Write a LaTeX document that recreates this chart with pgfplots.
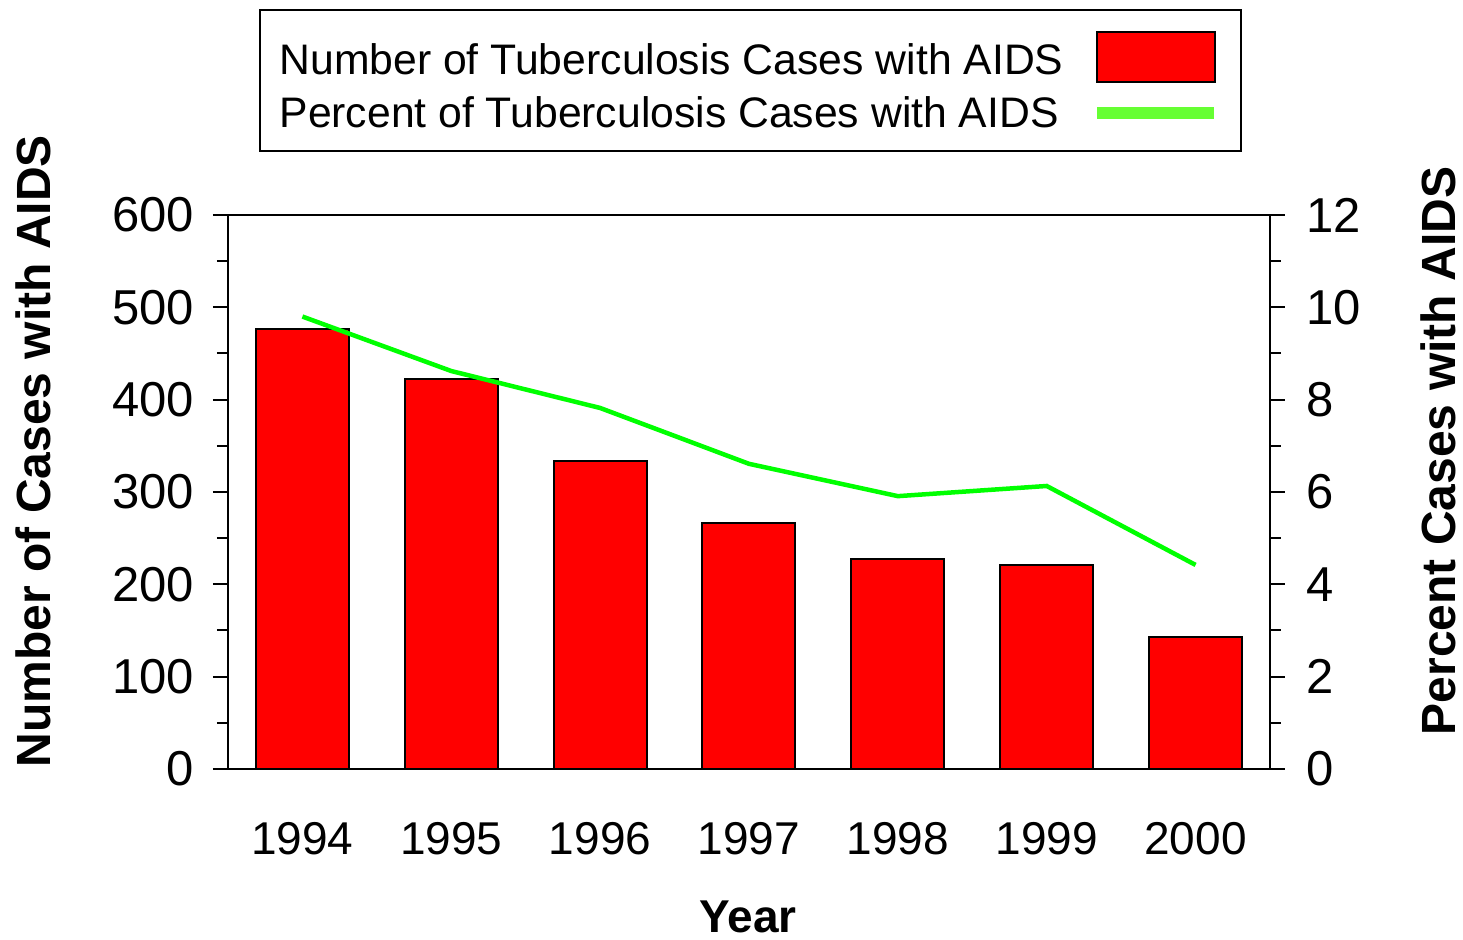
\documentclass[border=0pt]{standalone}
\usepackage{pgfplots}
\pgfplotsset{compat=1.18}
\usepackage{fontspec}
\setmainfont{Liberation Sans}
\definecolor{barred}{RGB}{255,0,0}
\definecolor{linegreen}{RGB}{0,255,0}
\definecolor{leggreen}{RGB}{102,255,51}
\begin{document}
\begin{tikzpicture}
\path[use as bounding box] (-114pt,-85.5pt) rectangle (617.5pt,384.5pt);
\pgfplotsset{
 common/.style={
  at={(0,0)}, anchor=south west,
  scale only axis, width=521pt, height=277pt,
  xmin=-0.5, xmax=6.5,
  tick align=outside,
  major tick length=7.5pt, minor tick length=5.5pt,
  every tick/.style={black, line width=1pt},
  axis line style={line width=1pt},
  /pgf/number format/assume math mode=true,
  yticklabel style={font=\fontsize{24.5}{29}\selectfont},
  xticklabel style={font=\fontsize{23}{28}\selectfont},
  minor y tick num=1,
 }
}
\begin{axis}[common,
  ymin=0, ymax=600, ytick={0,100,...,600},
  ytick pos=left,
  yticklabel style={xshift=-6pt},
  xtick={0,1,2,3,4,5,6},
  xticklabels={1994,1995,1996,1997,1998,1999,2000},
  xtick pos=bottom,
  x tick style={draw=none},
  xticklabel style={yshift=-15.5pt},
  ybar, bar width=46.5pt,
  xlabel={\bfseries Year},
  xlabel style={font=\fontsize{23}{28}\selectfont, at={(axis description cs:0.499,-0.267)}, anchor=center},
  ylabel={\bfseries Number of Cases with AIDS},
  ylabel style={font=\fontsize{24}{29}\selectfont, at={(axis description cs:-0.187,0.574)}, anchor=center, rotate=0},
  legend plot pos=right,
  legend cell align=left,
  legend style={at={(axis description cs:0.0297,1.3718)}, anchor=north west,
    draw=black, line width=1pt,
    font=\fontsize{21.35}{25}\selectfont,
    inner xsep=9.8pt, inner ysep=10.5pt,
    column sep=14pt, row sep=6.6pt,
    nodes={inner xsep=0pt, inner ysep=0pt}},
]
\addplot[fill=barred, draw=black, line width=1pt,
  legend image code/.code={\draw[fill=barred,draw=black,line width=1pt] (0pt,-11pt) rectangle (59pt,14pt); \path (61.7pt,0pt);}]
  coordinates {(0,476.5) (1,422.4) (2,333.6) (3,266.4) (4,227.4) (5,221.0) (6,143.0)};
\addlegendentry{Number of Tuberculosis Cases with AIDS}
\addlegendimage{legend image code/.code={\draw[leggreen, line width=6pt] (0pt,0pt) -- (58.5pt,0pt); \path (61.7pt,0pt);}}
\addlegendentry{Percent of Tuberculosis Cases with AIDS}
\end{axis}
\begin{axis}[common,
  ymin=0, ymax=12, ytick={0,2,...,12},
  axis y line*=right,
  hide x axis,
  yticklabel style={xshift=7pt},
  ylabel={\bfseries Percent Cases with AIDS},
  ylabel style={font=\fontsize{24}{29}\selectfont, at={(axis description cs:1.1612,0.574)}, anchor=center, rotate=0},
]
\addplot[linegreen, line width=2.25pt] coordinates {(0,9.80) (1,8.62) (2,7.82) (3,6.61) (4,5.91) (5,6.13) (6,4.42)};
\end{axis}
\end{tikzpicture}
\end{document}
